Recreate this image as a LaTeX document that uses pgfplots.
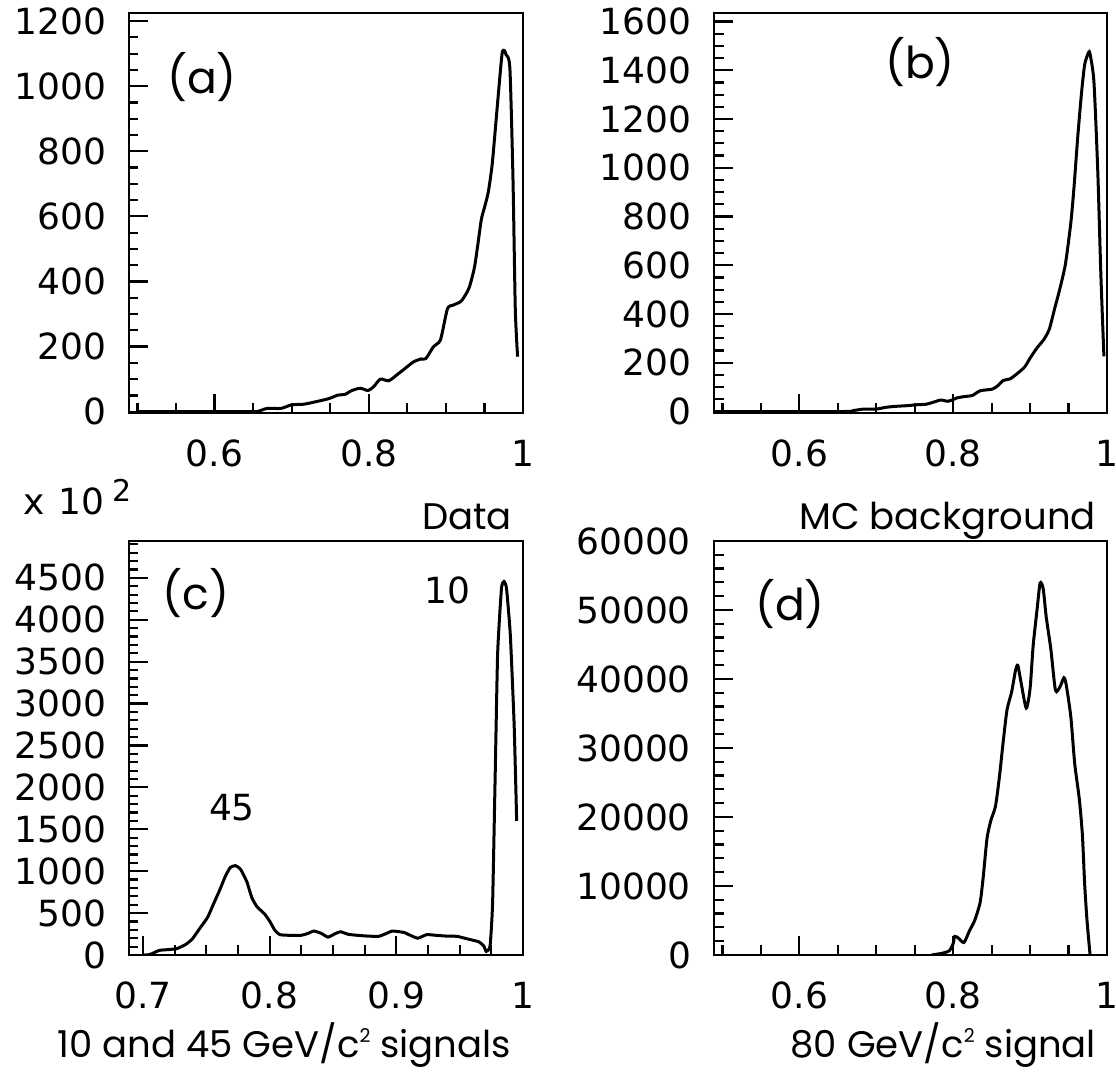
\documentclass[border=0pt]{standalone}
\usepackage{fontspec}
\setmainfont{Poppins}
\newfontfamily\numfont{DejaVu Sans}
\usepackage{pgfplots}
\pgfplotsset{compat=1.18}

\newcommand\hf{\fontsize{18.5}{22}\selectfont}
\newcommand\nf{\numfont\fontsize{18}{22}\selectfont}
\newcommand\pf{\fontsize{22}{26}\selectfont}
\newcommand\sq{\raisebox{0.42em}{\fontsize{9.5}{9.5}\selectfont 2}}

\pgfplotsset{
  hbook/.style={
    scale only axis, anchor=south west,
    tick pos=left, tick align=inside,
    major tick length=9.5pt, minor tick length=4.75pt,
    axis line style={line width=1.4pt},
    every tick/.append style={black, line width=1.1pt},
    tick label style={font=\nf},
    /pgf/number format/assume math mode=true,
    /pgf/number format/1000 sep={},
    scaled ticks=false,
    xticklabel style={yshift=-10pt},
    yticklabel style={xshift=-8pt},
  },
  curve/.style={black, line width=1.5pt, smooth, tension=0.4, mark=none},
}

\begin{document}
\begin{tikzpicture}
\path[use as bounding box] (0,0) rectangle (558pt,537pt);

% (a) data
\begin{axis}[hbook, at={(64.5pt,330.5pt)}, width=197pt, height=200pt,
  xmin=0.489, xmax=1, ymin=-4, ymax=1225,
  xtick={0.6,0.8,1}, minor xtick={0.5,0.55,...,0.96},
  ytick={0,200,...,1200}, minor ytick={0,50,...,1200}]
\addplot[curve] coordinates {
 (0.50,0) (0.64,0) (0.656,1) (0.668,10) (0.686,10) (0.700,21) (0.716,23)
 (0.734,32) (0.748,40) (0.760,51) (0.769,53) (0.778,65) (0.789,72) (0.799,65)
 (0.806,76) (0.815,100) (0.826,95) (0.838,116) (0.845,129) (0.858,153)
 (0.868,162) (0.874,163) (0.884,200) (0.893,221) (0.902,316) (0.909,327)
 (0.920,340) (0.930,380) (0.937,443) (0.941,506) (0.946,591) (0.950,627)
 (0.955,675) (0.960,759) (0.964,865) (0.969,1002) (0.973,1102) (0.976,1109)
 (0.978,1097) (0.983,1055) (0.987,717) (0.990,316) (0.993,169)
};
\end{axis}

% (b) MC background
\begin{axis}[hbook, at={(357pt,330.5pt)}, width=196.5pt, height=200pt,
  xmin=0.489, xmax=1, ymin=-6, ymax=1635,
  xtick={0.6,0.8,1}, minor xtick={0.5,0.55,...,0.96},
  ytick={0,200,...,1600}, minor ytick={0,50,...,1600}]
\addplot[curve] coordinates {
 (0.498,0) (0.656,0) (0.670,4) (0.684,10) (0.700,10) (0.712,17) (0.724,21)
 (0.740,24) (0.754,28) (0.765,30) (0.775,39) (0.784,47) (0.793,42) (0.800,49)
 (0.805,56) (0.814,61) (0.825,66) (0.835,85) (0.851,92) (0.858,106)
 (0.865,127) (0.874,134) (0.883,155) (0.893,183) (0.900,219) (0.909,261)
 (0.918,296) (0.925,338) (0.932,423) (0.939,507) (0.946,606) (0.953,775)
 (0.957,916) (0.962,1128) (0.967,1311) (0.971,1424) (0.976,1473)
 (0.978,1466) (0.983,1353) (0.988,987) (0.992,564) (0.996,226)
};
\end{axis}

% (c) 10 and 45 GeV signals
\begin{axis}[hbook, at={(64.5pt,59.5pt)}, width=197pt, height=207pt,
  xmin=0.689, xmax=1, ymin=0, ymax=4940,
  xtick={0.7,0.8,0.9,1}, minor xtick={0.7,0.725,...,0.99},
  ytick={0,500,...,4500}, minor ytick={0,100,...,4900}]
\addplot[curve, tension=0.3] coordinates {
 (0.700,0) (0.703,0) (0.706,9) (0.713,55) (0.720,64) (0.727,77) (0.734,128)
 (0.739,192) (0.745,320) (0.751,448) (0.756,618) (0.761,789) (0.765,938)
 (0.769,1045) (0.773,1066) (0.777,1024) (0.782,874) (0.786,682) (0.790,576)
 (0.796,490) (0.800,405) (0.804,299) (0.808,243) (0.815,235) (0.825,235)
 (0.830,256) (0.835,286) (0.841,256) (0.846,213) (0.852,256) (0.856,277)
 (0.862,247) (0.869,235) (0.877,226) (0.886,222) (0.892,256) (0.897,286)
 (0.906,269) (0.911,235) (0.917,200) (0.924,243) (0.931,235) (0.939,226)
 (0.948,222) (0.956,192) (0.965,158) (0.969,107) (0.971,43) (0.974,107)
 (0.976,618) (0.978,2111) (0.980,3604) (0.983,4372) (0.985,4457)
 (0.987,4372) (0.990,3817) (0.993,2751) (0.995,1599)
};
\end{axis}

% (d) 80 GeV signal
\begin{axis}[hbook, at={(357pt,59.5pt)}, width=196.5pt, height=207pt,
  xmin=0.489, xmax=1, ymin=0, ymax=60000,
  xtick={0.6,0.8,1}, minor xtick={0.5,0.55,...,0.96},
  ytick={0,10000,...,60000}, minor ytick={0,2000,...,60000}]
\addplot[curve] coordinates {
 (0.772,0) (0.786,259) (0.795,620) (0.800,1655) (0.802,2689) (0.807,2430)
 (0.814,1810) (0.821,3465) (0.828,5016) (0.835,7601) (0.839,11221)
 (0.844,16909) (0.849,19495) (0.855,21563) (0.860,25700) (0.865,30871)
 (0.870,35525) (0.876,38110) (0.881,41213) (0.884,41989) (0.888,39662)
 (0.895,35783) (0.900,38627) (0.904,44833) (0.909,50004) (0.913,53882)
 (0.917,53107) (0.921,48970) (0.927,44316) (0.933,38369) (0.939,38886)
 (0.944,40179) (0.947,39145) (0.953,34491) (0.958,27768) (0.964,22597)
 (0.968,17426) (0.971,10187) (0.974,5016) (0.978,0)
};
\end{axis}

% panel texts
\node[font=\pf] at (101pt,498.5pt) {(a)};
\node[font=\pf] at (460pt,506pt) {(b)};
\node[font=\pf] at (98pt,240.5pt) {(c)};
\node[font=\pf] at (395pt,235pt) {(d)};
\node[font=\nf] at (223.75pt,242pt) {10};
\node[font=\nf] at (116pt,133pt) {45};
\node[anchor=base east, font=\hf] at (259.5pt,272pt) {Data};
\node[anchor=base east, font=\hf] at (551.5pt,272pt) {MC background};
\node[anchor=base east, font=\hf] at (259pt,8pt) {10 and 45 GeV/c\sq{} signals};
\node[anchor=base east, font=\hf] at (551.5pt,8pt) {80 GeV/c\sq{} signal};
\node[anchor=base west, font=\nf, inner sep=0pt] at (11.5pt,279.5pt)
  {x\hspace{7pt}10\hspace{4pt}\raisebox{6.5pt}{\fontsize{15}{15}\selectfont 2}};
\end{tikzpicture}
\end{document}
